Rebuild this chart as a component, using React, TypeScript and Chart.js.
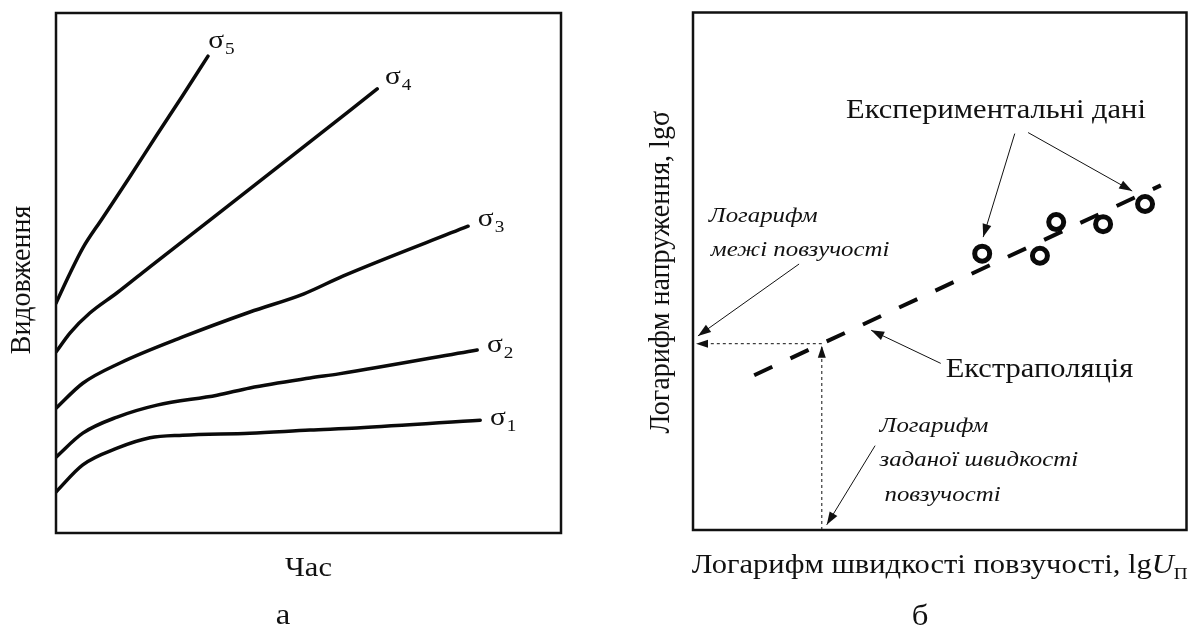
import React, { useEffect, useRef } from "react";
import { Chart, registerables } from "chart.js";

Chart.register(...registerables);

const SERIF = '"Liberation Serif", "Times New Roman", "DejaVu Serif", serif';
const STRETCH = 1.13;

// ---------- Panel "а": creep curves (elongation vs time) ----------
const timeS1 = [0, 5.3, 12.1, 18.6, 25.1, 38.4, 50.3, 59.6, 84.0];
const strainS1 = [7.9, 13.1, 16.3, 18.3, 18.8, 19.2, 19.8, 20.2, 21.7];
const timeS2 = [0, 5.3, 12.1, 20.0, 31.9, 38.4, 50.3, 56.0, 83.4];
const strainS2 = [14.6, 19.2, 22.3, 24.6, 26.5, 27.9, 29.8, 30.6, 35.2];
const timeS3 = [0, 5.3, 12.7, 25.1, 38.4, 49.1, 56.8, 81.6];
const strainS3 = [24.0, 28.8, 32.7, 37.7, 42.5, 46.0, 49.4, 59.0];
const timeS4 = [0, 2.8, 6.7, 12.1, 18.6, 31.3, 47.5, 63.6];
const strainS4 = [34.8, 38.5, 42.3, 46.2, 51.2, 60.8, 73.1, 85.4];
const timeS5 = [0, 2.8, 5.3, 9.1, 14.5, 19.8, 25.0, 30.1];
const strainS5 = [44.2, 50.0, 54.8, 60.4, 68.3, 76.3, 84.0, 91.7];
const curveSubscripts = ["1", "2", "3", "4", "5"];
const curveLabelTime = [87.5, 86.9, 85.1, 66.7, 31.7];
const curveLabelStrain = [21.9, 36.0, 60.2, 87.5, 94.4];

// ---------- Panel "б": log stress vs log creep rate ----------
const expRate = [58.6, 70.3, 73.6, 83.1, 91.6];
const expStress = [53.4, 53.0, 59.5, 59.1, 63.0];
const extrapRate = [12.4, 94.8];
const extrapStress = [29.9, 66.6];
const targetRate = 26.1;

const lerpLine = (x: number) =>
  extrapStress[0] +
  ((extrapStress[1] - extrapStress[0]) / (extrapRate[1] - extrapRate[0])) * (x - extrapRate[0]);
const limitStress = lerpLine(targetRate);

const zip = (xs: number[], ys: number[]) => xs.map((x, i) => ({ x, y: ys[i] }));

function drawArrow(ctx: CanvasRenderingContext2D, x1: number, y1: number, x2: number, y2: number, head = 11, half = 4) {
  ctx.beginPath();
  ctx.moveTo(x1, y1);
  ctx.lineTo(x2, y2);
  ctx.stroke();
  const a = Math.atan2(y2 - y1, x2 - x1);
  ctx.save();
  ctx.setLineDash([]);
  ctx.beginPath();
  ctx.moveTo(x2, y2);
  ctx.lineTo(x2 - head * Math.cos(a) + half * Math.sin(a), y2 - head * Math.sin(a) - half * Math.cos(a));
  ctx.lineTo(x2 - head * Math.cos(a) - half * Math.sin(a), y2 - head * Math.sin(a) + half * Math.cos(a));
  ctx.closePath();
  ctx.fill();
  ctx.restore();
}

// horizontally stretched text (the reference typography is slightly wide)
function wideText(ctx: CanvasRenderingContext2D, text: string, x: number, y: number, align: CanvasTextAlign = "left") {
  ctx.save();
  ctx.translate(x, y);
  ctx.scale(STRETCH, 1);
  ctx.textAlign = align;
  ctx.textBaseline = "alphabetic";
  ctx.fillText(text, 0, 0);
  ctx.restore();
}

function wideWidth(ctx: CanvasRenderingContext2D, text: string) {
  return ctx.measureText(text).width * STRETCH;
}

function rotatedText(ctx: CanvasRenderingContext2D, text: string, x: number, y: number) {
  ctx.save();
  ctx.translate(x, y);
  ctx.rotate(-Math.PI / 2);
  ctx.scale(1, 1.08);
  ctx.textAlign = "center";
  ctx.textBaseline = "middle";
  ctx.fillText(text, 0, 0);
  ctx.restore();
}

const leftPlugin = {
  id: "leftDecor",
  afterDraw(chart: any) {
    const { ctx, chartArea, scales } = chart;
    const { left, top, right, bottom } = chartArea;
    ctx.save();
    ctx.strokeStyle = "#111";
    ctx.lineWidth = 2.5;
    ctx.strokeRect(left, top, right - left, bottom - top);
    ctx.fillStyle = "#111";
    // curve labels
    curveSubscripts.forEach((sub, i) => {
      const px = scales.x.getPixelForValue(curveLabelTime[i]);
      const py = scales.y.getPixelForValue(curveLabelStrain[i]);
      ctx.font = `26px ${SERIF}`;
      wideText(ctx, "σ", px, py + 6, "center");
      const w = wideWidth(ctx, "σ");
      ctx.font = `17px ${SERIF}`;
      wideText(ctx, sub, px + w / 2 + 1, py + 12, "left");
    });
    // axis titles
    ctx.font = `27px ${SERIF}`;
    wideText(ctx, "Час", (left + right) / 2, bottom + 43, "center");
    ctx.font = `28px ${SERIF}`;
    rotatedText(ctx, "Видовження", left - 34, (top + bottom) / 2 + 7);
    ctx.font = `29px ${SERIF}`;
    wideText(ctx, "а", left + 227, bottom + 91, "center");
    ctx.restore();
  },
};

const rightPlugin = {
  id: "rightDecor",
  afterDraw(chart: any) {
    const { ctx, chartArea, scales } = chart;
    const { left, top, right, bottom } = chartArea;
    const X = (v: number) => scales.x.getPixelForValue(v);
    const Y = (v: number) => scales.y.getPixelForValue(v);
    ctx.save();
    ctx.strokeStyle = "#111";
    ctx.fillStyle = "#111";
    ctx.lineWidth = 2.5;
    ctx.strokeRect(left, top, right - left, bottom - top);

    // dotted construction arrows
    ctx.lineWidth = 1;
    ctx.setLineDash([3, 3]);
    drawArrow(ctx, X(targetRate), Y(limitStress), left + 3, Y(limitStress), 12, 4);
    drawArrow(ctx, X(targetRate), bottom, X(targetRate), Y(limitStress) + 2, 12, 4);
    ctx.setLineDash([]);

    // solid pointer arrows
    const arrows = [
      [21.5, 51.4, 1.0, 37.5],
      [50.2, 32.2, 36.1, 38.6],
      [36.9, 16.3, 27.1, 1.0],
      [65.2, 76.6, 58.8, 56.6],
      [67.9, 76.8, 89.0, 65.5],
    ];
    arrows.forEach(([a, b, c, d]) => drawArrow(ctx, X(a), Y(b), X(c), Y(d), 13, 4.5));

    // annotation texts
    ctx.font = `27px ${SERIF}`;
    wideText(ctx, "Експериментальні дані", X(61.4), Y(79.7), "center");
    wideText(ctx, "Екстраполяція", X(51.2), Y(29.5), "left");
    ctx.font = `italic 22px ${SERIF}`;
    wideText(ctx, "Логарифм", X(3.2), Y(59.6));
    wideText(ctx, "межі повзучості", X(3.6), Y(53.0));
    wideText(ctx, "Логарифм", X(37.8), Y(19.0));
    wideText(ctx, "заданої швидкості", X(37.8), Y(12.3));
    wideText(ctx, "повзучості", X(38.8), Y(5.7));

    // x-axis title with subscript
    const parts: [string, string, number][] = [
      ["Логарифм швидкості повзучості, lg", `27px ${SERIF}`, 0],
      ["U", `italic 27px ${SERIF}`, 0],
      ["П", `17px ${SERIF}`, 6],
    ];
    let total = 0;
    parts.forEach(([t, f]) => {
      ctx.font = f;
      total += wideWidth(ctx, t);
    });
    let cx = (left + right) / 2 - total / 2;
    parts.forEach(([t, f, dy]) => {
      ctx.font = f;
      wideText(ctx, t, cx, bottom + 43 + dy, "left");
      cx += wideWidth(ctx, t);
    });

    ctx.font = `28px ${SERIF}`;
    rotatedText(ctx, "Логарифм напруження, lgσ", left - 32, (top + bottom) / 2 + 1);
    ctx.font = `29px ${SERIF}`;
    wideText(ctx, "б", left + 227, bottom + 95, "center");
    ctx.restore();
  },
};

const baseScales = {
  x: { type: "linear" as const, min: 0, max: 100, display: false },
  y: { type: "linear" as const, min: 0, max: 100, display: false },
};

export default function App() {
  const leftRef = useRef<HTMLCanvasElement>(null);
  const rightRef = useRef<HTMLCanvasElement>(null);

  useEffect(() => {
    const curve = (xs: number[], ys: number[]) => ({
      data: zip(xs, ys),
      borderColor: "#0a0a0a",
      borderWidth: 3.5,
      pointRadius: 0,
      fill: false,
      cubicInterpolationMode: "monotone" as const,
      borderCapStyle: "round" as const,
    });
    const left = new Chart(leftRef.current!, {
      type: "line",
      data: {
        datasets: [
          curve(timeS1, strainS1),
          curve(timeS2, strainS2),
          curve(timeS3, strainS3),
          curve(timeS4, strainS4),
          curve(timeS5, strainS5),
        ],
      },
      options: {
        responsive: false,
        animation: false,
        events: [],
        layout: { padding: { left: 56, top: 13, right: 39, bottom: 95 } },
        scales: baseScales,
        plugins: { legend: { display: false }, tooltip: { enabled: false } },
      },
      plugins: [leftPlugin],
    });

    const right = new Chart(rightRef.current!, {
      type: "line",
      data: {
        datasets: [
          {
            data: zip(expRate, expStress),
            showLine: false,
            pointStyle: "circle",
            pointRadius: 7.5,
            pointBorderWidth: 5,
            pointBorderColor: "#0a0a0a",
            pointBackgroundColor: "#ffffff",
          },
          {
            data: zip(extrapRate, extrapStress),
            borderColor: "#0a0a0a",
            borderWidth: 4,
            borderDash: [20, 20],
            pointRadius: 0,
            fill: false,
          },
        ],
      },
      options: {
        responsive: false,
        animation: false,
        events: [],
        layout: { padding: { left: 93, top: 9, right: 8, bottom: 98 } },
        scales: baseScales,
        plugins: { legend: { display: false }, tooltip: { enabled: false } },
      },
      plugins: [rightPlugin],
    });

    return () => {
      left.destroy();
      right.destroy();
    };
  }, []);

  return (
    <div style={{ position: "fixed", left: 0, top: 0, width: 1199, height: 628, background: "#fff" }}>
      <canvas ref={leftRef} width={600} height={628} style={{ position: "absolute", left: 0, top: 0, width: 600, height: 628 }} />
      <canvas ref={rightRef} width={599} height={628} style={{ position: "absolute", left: 600, top: 0, width: 599, height: 628 }} />
    </div>
  );
}
